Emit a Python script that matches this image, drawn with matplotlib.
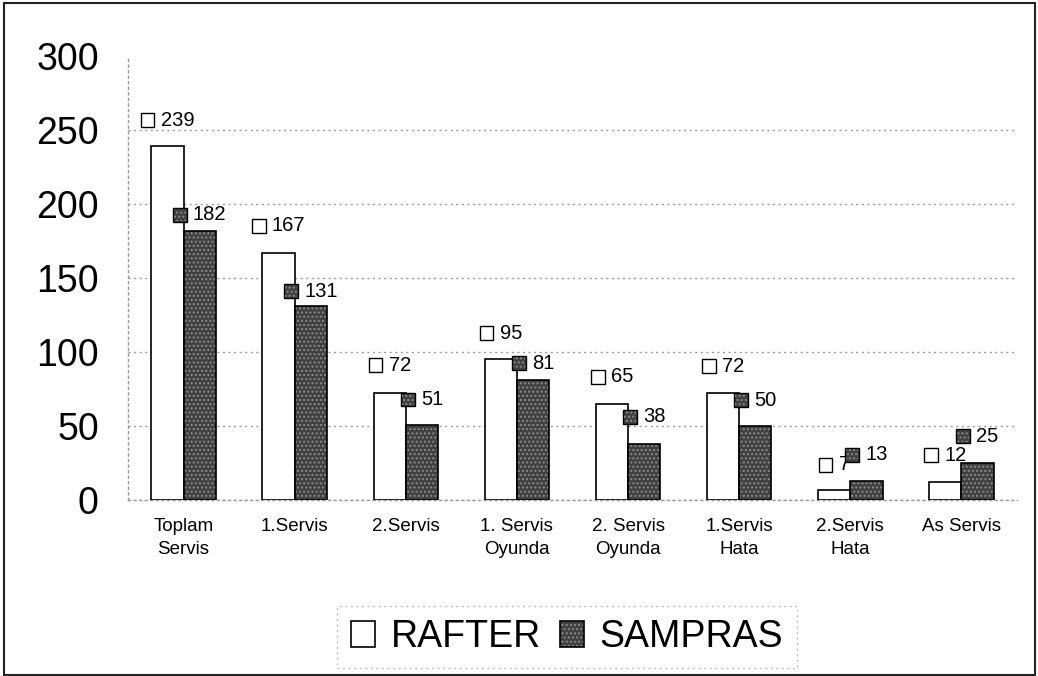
import matplotlib
matplotlib.use("Agg")
import matplotlib.pyplot as plt
import numpy as np
from matplotlib.patches import Rectangle, Patch
from matplotlib.offsetbox import AnnotationBbox, HPacker, DrawingArea, TextArea
from matplotlib.legend_handler import HandlerTuple

plt.rcParams['font.family'] = ['Liberation Sans', 'DejaVu Sans']

categories = ["Toplam\nServis", "1.Servis", "2.Servis", "1. Servis\nOyunda",
              "2. Servis\nOyunda", "1.Servis\nHata", "2.Servis\nHata", "As Servis"]
rafter = [239, 167, 72, 95, 65, 72, 7, 12]
sampras = [182, 131, 51, 81, 38, 50, 13, 25]
series_names = ["RAFTER", "SAMPRAS"]
yticks = [0, 50, 100, 150, 200, 250, 300]

# label lifts above bar tops (pixels)
rafter_lift = [26, 27, 28, 26, 27, 27, 25, 27]
sampras_lift = [16, 15, 25, 17, 27, 26, 26, 27]

W, H = 1038, 676
fig = plt.figure(figsize=(W / 100, H / 100), dpi=100)
ax = fig.add_axes([128 / W, 1 - 500 / H, (1017 - 128) / W, (500 - 56) / H])

x = np.arange(len(categories))
bw = 0.29
dark = '#404040'
speck = '#8a8a8a'

ax.bar(x - bw / 2, rafter, bw, color='white', edgecolor='black', linewidth=1.2, zorder=3)
ax.bar(x + bw / 2, sampras, bw, color=dark, edgecolor=speck, hatch='....',
       linewidth=0, zorder=3)
ax.bar(x + bw / 2, sampras, bw, color='none', edgecolor='black', linewidth=1.2, zorder=4)

ax.set_xlim(-0.5, len(categories) - 0.5)
ax.set_ylim(0, 300)
ax.set_yticks(yticks)
ax.set_yticklabels([str(v) for v in yticks], fontsize=27)
ax.set_xticks(x)
ax.set_xticklabels(categories, fontsize=13.5, linespacing=1.42)
ax.tick_params(axis='y', length=0, pad=21)
ax.tick_params(axis='x', length=0, pad=13)

ax.grid(axis='y', color='#9a9a9a', linestyle=(0, (1.5, 2.5)), linewidth=1, zorder=0)
ax.yaxis.get_gridlines()[-1].set_visible(False)
for s in ['top', 'right']:
    ax.spines[s].set_visible(False)
for s in ['left', 'bottom']:
    ax.spines[s].set_color('#9a9a9a')
    ax.spines[s].set_linestyle((0, (1.5, 2.5)))
    ax.spines[s].set_linewidth(1)

SQ = 10  # points (~14 px)


def value_label(xc, val, face, hatch, lift):
    da = DrawingArea(SQ, SQ, 0, 0)
    da.add_artist(Rectangle((0, 0), SQ, SQ, facecolor=face, edgecolor='black',
                            linewidth=1.0))
    if hatch:
        da.add_artist(Rectangle((0.7, 0.7), SQ - 1.4, SQ - 1.4, facecolor='none',
                                edgecolor=speck, hatch=hatch, linewidth=0))
    ta = TextArea(str(val), textprops=dict(fontsize=14.5, color='black'))
    pack = HPacker(children=[da, ta], align='center', pad=0, sep=4.5)
    ab = AnnotationBbox(pack, (xc, val), xybox=(0, lift * 0.72),
                        xycoords='data', boxcoords='offset points',
                        box_alignment=(0.5, 0.5), frameon=False, zorder=6)
    ax.add_artist(ab)


for i in range(len(categories)):
    value_label(x[i] - bw / 2, rafter[i], 'white', None, rafter_lift[i])
    value_label(x[i] + bw / 2, sampras[i], dark, '....', sampras_lift[i])

h1 = Patch(facecolor='white', edgecolor='black', linewidth=1.2)
h2a = Patch(facecolor=dark, edgecolor=speck, hatch='....', linewidth=0)
h2b = Patch(facecolor='none', edgecolor='black', linewidth=1.2)
leg = fig.legend([h1, (h2a, h2b)], series_names, loc='center',
                 bbox_to_anchor=(567 / W, 1 - 637 / H), ncol=2, fontsize=27,
                 handlelength=0.64, handleheight=0.67, handletextpad=0.43,
                 columnspacing=0.5, borderpad=0.35, frameon=True, fancybox=False,
                 handler_map={tuple: HandlerTuple(ndivide=1, pad=0)})
frame = leg.get_frame()
frame.set_edgecolor('#b0b0b0')
frame.set_linestyle((0, (1.5, 2.5)))
frame.set_linewidth(1)

fig.patches.append(Rectangle((4 / W, 1 - 675 / H), (1035 - 4) / W, (675 - 3) / H,
                             transform=fig.transFigure, fill=False,
                             edgecolor='#222222', linewidth=1.5))

fig.savefig('out.png', dpi=100)
